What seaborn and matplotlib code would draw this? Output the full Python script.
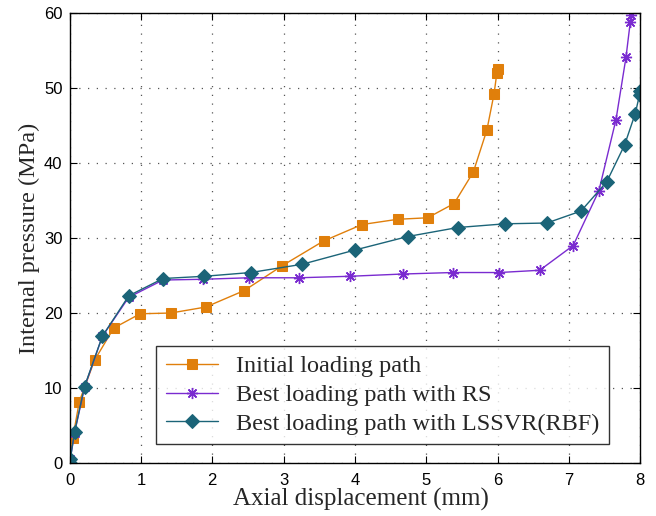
import matplotlib
matplotlib.use("Agg")
import matplotlib.pyplot as plt
import seaborn as sns
import pandas as pd

# Axial displacement (mm) and internal pressure (MPa) for each loading path
initial_x = [0.0, 0.045, 0.137, 0.35, 0.62, 0.99, 1.42, 1.91, 2.45, 2.98, 3.56,
             4.10, 4.60, 5.02, 5.39, 5.66, 5.85, 5.95, 5.99, 6.00]
initial_y = [0.1, 3.3, 8.2, 13.7, 18.0, 19.9, 20.0, 20.8, 23.0, 26.3, 29.6,
             31.8, 32.5, 32.7, 34.6, 38.8, 44.4, 49.2, 52.0, 52.5]

rs_x = [0.0, 0.01, 0.07, 0.21, 0.46, 0.83, 1.31, 1.87, 2.51, 3.21, 3.93,
        4.67, 5.37, 6.02, 6.59, 7.06, 7.42, 7.66, 7.80, 7.86, 7.87]
rs_y = [0.0, 0.5, 4.0, 10.1, 16.9, 22.1, 24.4, 24.5, 24.7, 24.7, 24.9,
        25.2, 25.4, 25.4, 25.7, 29.0, 36.3, 45.8, 54.1, 58.8, 59.8]

lssvr_x = [0.0, 0.01, 0.07, 0.21, 0.46, 0.83, 1.31, 1.89, 2.54, 3.26, 4.00,
           4.74, 5.44, 6.11, 6.69, 7.17, 7.53, 7.78, 7.93, 7.99, 7.99]
lssvr_y = [0.0, 0.5, 4.1, 10.2, 16.9, 22.3, 24.6, 24.9, 25.4, 26.5, 28.4,
           30.2, 31.4, 31.9, 32.0, 33.6, 37.5, 42.4, 46.6, 49.1, 49.6]

labels = ["Initial loading path", "Best loading path with RS",
          "Best loading path with LSSVR(RBF)"]

sns.set_theme(style="white")
plt.rcParams["font.family"] = ["Liberation Sans", "DejaVu Sans"]

fig = plt.figure(figsize=(6.56, 5.16), dpi=100)
ax = fig.add_axes([0.106, 0.1027, 0.870, 0.872])

series = [
    (initial_x, initial_y, labels[0], "#E07F0B", "s", 7, {}),
    (rs_x, rs_y, labels[1], "#7A2BD0", (8, 2, 0), 8, {"markeredgewidth": 1.0}),
    (lssvr_x, lssvr_y, labels[2], "#1B6478", "D", 7.5, {}),
]
for xs, ys, lab, col, mk, ms, extra in series:
    df = pd.DataFrame({"x": xs, "y": ys})
    sns.lineplot(data=df, x="x", y="y", ax=ax, sort=False, estimator=None,
                 color=col, marker=mk, markersize=ms, linewidth=1.0,
                 markeredgecolor=col, label=lab, **extra)

ax.set_xlim(0, 8)
ax.set_ylim(0, 60)
ax.set_xticks(range(0, 9))
ax.set_yticks(range(0, 61, 10))

ax.grid(True, color="#555555", linestyle=(0, (1, 6)), linewidth=0.9)
for s in ax.spines.values():
    s.set_color("black")
    s.set_linewidth(1.0)
ax.tick_params(direction="in", length=5, width=0.8, color="black",
               top=True, right=True, bottom=True, left=True,
               labelsize=12, labelcolor="black")
ax.tick_params(axis="x", pad=7)
ax.tick_params(axis="y", pad=5)

serif = ["Liberation Serif", "DejaVu Serif"]
ax.set_xlabel("Axial displacement (mm)", family=serif, fontsize=18, labelpad=1)
ax.xaxis.set_label_coords(0.51, -0.055, transform=ax.transAxes)
ax.xaxis.label.set_verticalalignment("top")
ax.set_ylabel("Internal pressure (MPa)", family=serif, fontsize=17.5, labelpad=3)

leg = ax.legend(loc="lower left", bbox_to_anchor=(0.152, 0.042),
                borderaxespad=0, frameon=True, fancybox=False,
                prop={"family": serif, "size": 17.5}, handlelength=2.15,
                handletextpad=0.75, labelspacing=0.28, borderpad=0.38)
leg.get_frame().set_edgecolor("black")
leg.get_frame().set_linewidth(1.0)

fig.savefig("out.png", dpi=100)
